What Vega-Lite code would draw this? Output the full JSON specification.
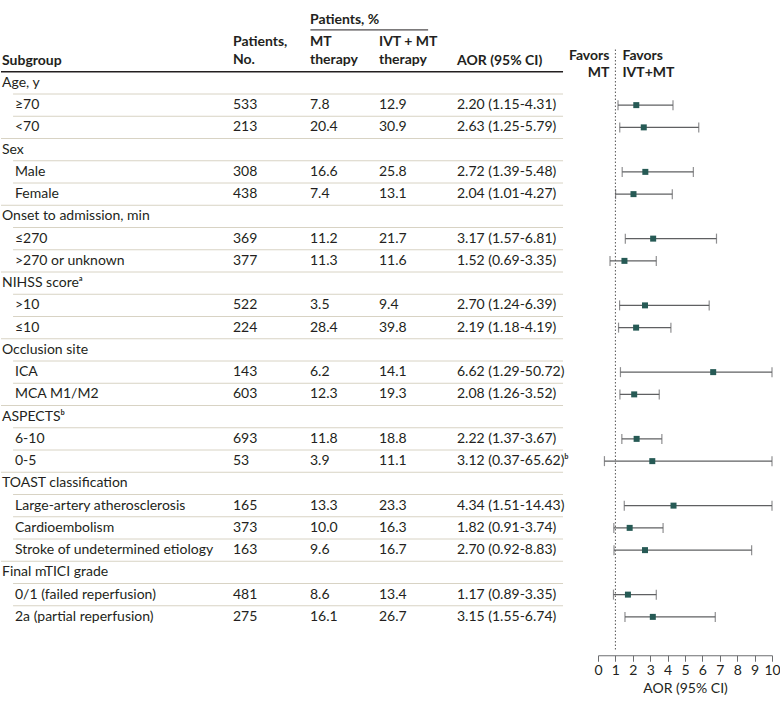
{
  "$schema": "https://vega.github.io/schema/vega-lite/v6.json",
  "padding": {"left": 0, "top": 5, "right": 4, "bottom": 5},
  "bounds": "flush",
  "spacing": 0,
  "config": {
    "view": {"stroke": null},
    "font": "Lato",
    "text": {"fontSize": 14, "color": "#231f20", "font": "Lato"},
    "axis": {"labelFont": "Lato", "titleFont": "Lato", "labelFontSize": 14, "titleFontSize": 14, "titleFontWeight": "normal", "labelColor": "#231f20", "titleColor": "#231f20", "domainColor": "#6d6e70", "tickColor": "#6d6e70", "grid": false, "tickSize": 6, "labelPadding": 2, "titlePadding": 4, "labelOverlap": false, "labelFlush": false}
  },
  "datasets": {
    "head": [
      {"col": "sub", "r": "h3", "t": "Subgroup"},
      {"col": "no", "r": "h2", "t": "Patients,\nNo."},
      {"col": "pct", "r": "h1", "t": "Patients, %"},
      {"col": "mt", "r": "h2", "t": "MT\ntherapy"},
      {"col": "ivt", "r": "h2", "t": "IVT + MT\ntherapy"},
      {"col": "aor", "r": "h3", "t": "AOR (95% CI)"},
      {"col": "fmt", "r": "h3", "t": "Favors\nMT"},
      {"col": "fivt", "r": "h3", "t": "Favors\nIVT+MT"}
    ],
    "rows": [
      {"r": "r01", "kind": "g", "label": "Age, y"},
      {"r": "r02", "kind": "i", "label": "≥70", "n": 533, "mt": 7.8, "ivt": 12.9, "aor": "2.20 (1.15-4.31)", "est": 2.20, "lo": 1.15, "hi": 4.31},
      {"r": "r03", "kind": "i", "label": "<70", "n": 213, "mt": 20.4, "ivt": 30.9, "aor": "2.63 (1.25-5.79)", "est": 2.63, "lo": 1.25, "hi": 5.79},
      {"r": "r04", "kind": "g", "label": "Sex"},
      {"r": "r05", "kind": "i", "label": "Male", "n": 308, "mt": 16.6, "ivt": 25.8, "aor": "2.72 (1.39-5.48)", "est": 2.72, "lo": 1.39, "hi": 5.48},
      {"r": "r06", "kind": "i", "label": "Female", "n": 438, "mt": 7.4, "ivt": 13.1, "aor": "2.04 (1.01-4.27)", "est": 2.04, "lo": 1.01, "hi": 4.27},
      {"r": "r07", "kind": "g", "label": "Onset to admission, min"},
      {"r": "r08", "kind": "i", "label": "≤270", "n": 369, "mt": 11.2, "ivt": 21.7, "aor": "3.17 (1.57-6.81)", "est": 3.17, "lo": 1.57, "hi": 6.81},
      {"r": "r09", "kind": "i", "label": ">270 or unknown", "n": 377, "mt": 11.3, "ivt": 11.6, "aor": "1.52 (0.69-3.35)", "est": 1.52, "lo": 0.69, "hi": 3.35},
      {"r": "r10", "kind": "g", "label": "NIHSS scoreᵃ"},
      {"r": "r11", "kind": "i", "label": ">10", "n": 522, "mt": 3.5, "ivt": 9.4, "aor": "2.70 (1.24-6.39)", "est": 2.70, "lo": 1.24, "hi": 6.39},
      {"r": "r12", "kind": "i", "label": "≤10", "n": 224, "mt": 28.4, "ivt": 39.8, "aor": "2.19 (1.18-4.19)", "est": 2.19, "lo": 1.18, "hi": 4.19},
      {"r": "r13", "kind": "g", "label": "Occlusion site"},
      {"r": "r14", "kind": "i", "label": "ICA", "n": 143, "mt": 6.2, "ivt": 14.1, "aor": "6.62 (1.29-50.72)", "est": 6.62, "lo": 1.29, "hi": 50.72},
      {"r": "r15", "kind": "i", "label": "MCA M1/M2", "n": 603, "mt": 12.3, "ivt": 19.3, "aor": "2.08 (1.26-3.52)", "est": 2.08, "lo": 1.26, "hi": 3.52},
      {"r": "r16", "kind": "g", "label": "ASPECTSᵇ"},
      {"r": "r17", "kind": "i", "label": "6-10", "n": 693, "mt": 11.8, "ivt": 18.8, "aor": "2.22 (1.37-3.67)", "est": 2.22, "lo": 1.37, "hi": 3.67},
      {"r": "r18", "kind": "i", "label": "0-5", "n": 53, "mt": 3.9, "ivt": 11.1, "aor": "3.12 (0.37-65.62)ᵇ", "est": 3.12, "lo": 0.37, "hi": 65.62},
      {"r": "r19", "kind": "g", "label": "TOAST classification"},
      {"r": "r20", "kind": "i", "label": "Large-artery atherosclerosis", "n": 165, "mt": 13.3, "ivt": 23.3, "aor": "4.34 (1.51-14.43)", "est": 4.34, "lo": 1.51, "hi": 14.43},
      {"r": "r21", "kind": "i", "label": "Cardioembolism", "n": 373, "mt": 10.0, "ivt": 16.3, "aor": "1.82 (0.91-3.74)", "est": 1.82, "lo": 0.91, "hi": 3.74},
      {"r": "r22", "kind": "i", "label": "Stroke of undetermined etiology", "n": 163, "mt": 9.6, "ivt": 16.7, "aor": "2.70 (0.92-8.83)", "est": 2.70, "lo": 0.92, "hi": 8.83},
      {"r": "r23", "kind": "g", "label": "Final mTICI grade"},
      {"r": "r24", "kind": "i", "label": "0/1 (failed reperfusion)", "n": 481, "mt": 8.6, "ivt": 13.4, "aor": "1.17 (0.89-3.35)", "est": 1.72, "lo": 0.89, "hi": 3.35},
      {"r": "r25", "kind": "i", "label": "2a (partial reperfusion)", "n": 275, "mt": 16.1, "ivt": 26.7, "aor": "3.15 (1.55-6.74)", "est": 3.15, "lo": 1.55, "hi": 6.74}
    ]
  },
  "hconcat": [
    {
      "width": 232,
      "height": {"step": 22.25},
      "layer": [
        {
          "data": {"name": "head"},
          "transform": [{"filter": "datum.col === 'sub'"}],
          "mark": {"type": "text", "align": "left", "baseline": "middle", "dx": 1, "fontWeight": "bold"},
          "encoding": {
            "x": {"datum": 0, "type": "quantitative", "scale": {"domain": [0, 1], "nice": false, "zero": false}, "axis": null},
            "y": {"field": "r", "type": "ordinal", "scale": {"domain": ["h1","h2","h3","r01","r02","r03","r04","r05","r06","r07","r08","r09","r10","r11","r12","r13","r14","r15","r16","r17","r18","r19","r20","r21","r22","r23","r24","r25"], "paddingInner": 0, "paddingOuter": 0}, "axis": null},
            "text": {"field": "t"}
          }
        },
        {
          "data": {"name": "rows"},
          "transform": [{"filter": "datum.kind === 'g'"}],
          "mark": {"type": "text", "align": "left", "baseline": "middle", "dx": 1},
          "encoding": {
            "x": {"datum": 0, "type": "quantitative"},
            "y": {"field": "r", "type": "ordinal"},
            "text": {"field": "label"}
          }
        },
        {
          "data": {"name": "rows"},
          "transform": [{"filter": "datum.kind === 'i'"}],
          "mark": {"type": "text", "align": "left", "baseline": "middle", "dx": 14},
          "encoding": {
            "x": {"datum": 0, "type": "quantitative"},
            "y": {"field": "r", "type": "ordinal"},
            "text": {"field": "label"}
          }
        },
        {
          "data": {"name": "rows"},
          "transform": [{"filter": "datum.kind === 'g' && datum.r !== 'r01'"}],
          "mark": {"type": "rule", "color": "#d8d3c4", "strokeWidth": 1},
          "encoding": {"y": {"field": "r", "type": "ordinal", "bandPosition": 0}}
        },
        {
          "data": {"name": "rows"},
          "transform": [{"filter": "datum.kind === 'i'"}],
          "mark": {"type": "rule", "color": "#d8d3c4", "strokeWidth": 1},
          "encoding": {
            "x": {"datum": 0.052, "type": "quantitative"},
            "x2": {"datum": 1},
            "y": {"field": "r", "type": "ordinal", "bandPosition": 0}
          }
        },
        {
          "data": {"name": "rows"},
          "transform": [{"filter": "datum.r === 'r01'"}],
          "mark": {"type": "rule", "color": "#231f20", "strokeWidth": 1.5},
          "encoding": {"y": {"field": "r", "type": "ordinal", "bandPosition": 0}}
        }
      ]
    },
    {
      "width": 76,
      "height": {"step": 22.25},
      "layer": [
        {
          "data": {"name": "head"},
          "transform": [{"filter": "datum.col === 'no'"}],
          "mark": {"type": "text", "align": "left", "baseline": "middle", "dy": 3.5, "fontWeight": "bold", "lineBreak": "\n", "lineHeight": 18},
          "encoding": {
            "x": {"datum": 0, "type": "quantitative", "scale": {"domain": [0, 1], "nice": false, "zero": false}, "axis": null},
            "y": {"field": "r", "type": "ordinal", "scale": {"domain": ["h1","h2","h3","r01","r02","r03","r04","r05","r06","r07","r08","r09","r10","r11","r12","r13","r14","r15","r16","r17","r18","r19","r20","r21","r22","r23","r24","r25"], "paddingInner": 0, "paddingOuter": 0}, "axis": null},
            "text": {"field": "t"}
          }
        },
        {
          "data": {"name": "rows"},
          "transform": [{"filter": "datum.kind === 'i'"}],
          "mark": {"type": "text", "align": "left", "baseline": "middle"},
          "encoding": {
            "x": {"datum": 0, "type": "quantitative"},
            "y": {"field": "r", "type": "ordinal"},
            "text": {"field": "n", "type": "quantitative", "format": "d"}
          }
        },
        {
          "data": {"name": "rows"},
          "transform": [{"filter": "datum.r !== 'r01'"}],
          "mark": {"type": "rule", "color": "#d8d3c4", "strokeWidth": 1},
          "encoding": {"y": {"field": "r", "type": "ordinal", "bandPosition": 0}}
        },
        {
          "data": {"name": "rows"},
          "transform": [{"filter": "datum.r === 'r01'"}],
          "mark": {"type": "rule", "color": "#231f20", "strokeWidth": 1.5},
          "encoding": {"y": {"field": "r", "type": "ordinal", "bandPosition": 0}}
        }
      ]
    },
    {
      "width": 70,
      "height": {"step": 22.25},
      "layer": [
        {
          "data": {"name": "head"},
          "transform": [{"filter": "datum.col === 'mt'"}],
          "mark": {"type": "text", "align": "left", "baseline": "middle", "dy": 3.5, "dx": 1, "fontWeight": "bold", "lineBreak": "\n", "lineHeight": 18},
          "encoding": {
            "x": {"datum": 0, "type": "quantitative", "scale": {"domain": [0, 1], "nice": false, "zero": false}, "axis": null},
            "y": {"field": "r", "type": "ordinal", "scale": {"domain": ["h1","h2","h3","r01","r02","r03","r04","r05","r06","r07","r08","r09","r10","r11","r12","r13","r14","r15","r16","r17","r18","r19","r20","r21","r22","r23","r24","r25"], "paddingInner": 0, "paddingOuter": 0}, "axis": null},
            "text": {"field": "t"}
          }
        },
        {
          "data": {"name": "head"},
          "transform": [{"filter": "datum.col === 'pct'"}],
          "mark": {"type": "text", "align": "left", "baseline": "middle", "dy": 4, "dx": 1, "fontWeight": "bold"},
          "encoding": {
            "x": {"datum": 0, "type": "quantitative"},
            "y": {"field": "r", "type": "ordinal"},
            "text": {"field": "t"}
          }
        },
        {
          "data": {"values": [{}]},
          "mark": {"type": "rule", "color": "#231f20", "strokeWidth": 1},
          "encoding": {
            "x": {"datum": 0.02, "type": "quantitative"},
            "x2": {"datum": 1},
            "y": {"datum": "h2", "type": "ordinal", "bandPosition": 0.12}
          }
        },
        {
          "data": {"name": "rows"},
          "transform": [{"filter": "datum.kind === 'i'"}],
          "mark": {"type": "text", "align": "left", "baseline": "middle", "dx": 1},
          "encoding": {
            "x": {"datum": 0, "type": "quantitative"},
            "y": {"field": "r", "type": "ordinal"},
            "text": {"field": "mt", "type": "quantitative", "format": ".1f"}
          }
        },
        {
          "data": {"name": "rows"},
          "transform": [{"filter": "datum.r !== 'r01'"}],
          "mark": {"type": "rule", "color": "#d8d3c4", "strokeWidth": 1},
          "encoding": {"y": {"field": "r", "type": "ordinal", "bandPosition": 0}}
        },
        {
          "data": {"name": "rows"},
          "transform": [{"filter": "datum.r === 'r01'"}],
          "mark": {"type": "rule", "color": "#231f20", "strokeWidth": 1.5},
          "encoding": {"y": {"field": "r", "type": "ordinal", "bandPosition": 0}}
        }
      ]
    },
    {
      "width": 78,
      "height": {"step": 22.25},
      "layer": [
        {
          "data": {"name": "head"},
          "transform": [{"filter": "datum.col === 'ivt'"}],
          "mark": {"type": "text", "align": "left", "baseline": "middle", "dy": 3.5, "fontWeight": "bold", "lineBreak": "\n", "lineHeight": 18},
          "encoding": {
            "x": {"datum": 0, "type": "quantitative", "scale": {"domain": [0, 1], "nice": false, "zero": false}, "axis": null},
            "y": {"field": "r", "type": "ordinal", "scale": {"domain": ["h1","h2","h3","r01","r02","r03","r04","r05","r06","r07","r08","r09","r10","r11","r12","r13","r14","r15","r16","r17","r18","r19","r20","r21","r22","r23","r24","r25"], "paddingInner": 0, "paddingOuter": 0}, "axis": null},
            "text": {"field": "t"}
          }
        },
        {
          "data": {"values": [{}]},
          "mark": {"type": "rule", "color": "#231f20", "strokeWidth": 1},
          "encoding": {
            "x": {"datum": 0, "type": "quantitative"},
            "x2": {"datum": 0.63},
            "y": {"datum": "h2", "type": "ordinal", "bandPosition": 0.12}
          }
        },
        {
          "data": {"name": "rows"},
          "transform": [{"filter": "datum.kind === 'i'"}],
          "mark": {"type": "text", "align": "left", "baseline": "middle"},
          "encoding": {
            "x": {"datum": 0, "type": "quantitative"},
            "y": {"field": "r", "type": "ordinal"},
            "text": {"field": "ivt", "type": "quantitative", "format": ".1f"}
          }
        },
        {
          "data": {"name": "rows"},
          "transform": [{"filter": "datum.r !== 'r01'"}],
          "mark": {"type": "rule", "color": "#d8d3c4", "strokeWidth": 1},
          "encoding": {"y": {"field": "r", "type": "ordinal", "bandPosition": 0}}
        },
        {
          "data": {"name": "rows"},
          "transform": [{"filter": "datum.r === 'r01'"}],
          "mark": {"type": "rule", "color": "#231f20", "strokeWidth": 1.5},
          "encoding": {"y": {"field": "r", "type": "ordinal", "bandPosition": 0}}
        }
      ]
    },
    {
      "width": 141,
      "height": {"step": 22.25},
      "layer": [
        {
          "data": {"name": "head"},
          "transform": [{"filter": "datum.col === 'aor'"}],
          "mark": {"type": "text", "align": "left", "baseline": "middle", "fontWeight": "bold"},
          "encoding": {
            "x": {"datum": 0, "type": "quantitative", "scale": {"domain": [0, 1], "nice": false, "zero": false}, "axis": null},
            "y": {"field": "r", "type": "ordinal", "scale": {"domain": ["h1","h2","h3","r01","r02","r03","r04","r05","r06","r07","r08","r09","r10","r11","r12","r13","r14","r15","r16","r17","r18","r19","r20","r21","r22","r23","r24","r25"], "paddingInner": 0, "paddingOuter": 0}, "axis": null},
            "text": {"field": "t"}
          }
        },
        {
          "data": {"name": "rows"},
          "transform": [{"filter": "datum.kind === 'i'"}],
          "mark": {"type": "text", "align": "left", "baseline": "middle"},
          "encoding": {
            "x": {"datum": 0, "type": "quantitative"},
            "y": {"field": "r", "type": "ordinal"},
            "text": {"field": "aor"}
          }
        },
        {
          "data": {"name": "rows"},
          "transform": [{"filter": "datum.r !== 'r01'"}],
          "mark": {"type": "rule", "color": "#d8d3c4", "strokeWidth": 1},
          "encoding": {
            "x": {"datum": 0, "type": "quantitative"},
            "x2": {"datum": 0.752},
            "y": {"field": "r", "type": "ordinal", "bandPosition": 0}
          }
        },
        {
          "data": {"name": "rows"},
          "transform": [{"filter": "datum.r === 'r01'"}],
          "mark": {"type": "rule", "color": "#231f20", "strokeWidth": 1.5},
          "encoding": {
            "x": {"datum": 0, "type": "quantitative"},
            "x2": {"datum": 0.752},
            "y": {"field": "r", "type": "ordinal", "bandPosition": 0}
          }
        }
      ]
    },
    {
      "width": 174,
      "height": {"step": 22.25},
      "layer": [
        {
          "data": {"values": [{}]},
          "mark": {"type": "rule", "color": "#555555", "strokeWidth": 1, "strokeDash": [1.5, 2]},
          "encoding": {
            "x": {"datum": 1, "type": "quantitative", "scale": {"domain": [0, 10], "nice": false, "zero": false, "clamp": true}, "axis": {"values": [0,1,2,3,4,5,6,7,8,9,10], "labelOverlap": false, "labelFlush": false, "labelBound": false, "offset": 5, "title": "AOR (95% CI)"}, "title": "AOR (95% CI)"},
            "y": {"datum": "h3", "type": "ordinal", "bandPosition": 0, "scale": {"domain": ["h1","h2","h3","r01","r02","r03","r04","r05","r06","r07","r08","r09","r10","r11","r12","r13","r14","r15","r16","r17","r18","r19","r20","r21","r22","r23","r24","r25","b1"], "paddingInner": 0, "paddingOuter": 0}, "axis": null},
            "y2": {"datum": "b1", "bandPosition": 1}
          }
        },
        {
          "data": {"name": "rows"},
          "transform": [{"filter": "datum.kind === 'i'"}],
          "mark": {"type": "rule", "color": "#5f6062", "strokeWidth": 1.2},
          "encoding": {
            "x": {"field": "lo", "type": "quantitative", "title": "AOR (95% CI)", "axis": {"values": [0,1,2,3,4,5,6,7,8,9,10], "labelOverlap": false, "labelFlush": false, "labelBound": false, "offset": 5, "title": "AOR (95% CI)"}},
            "x2": {"field": "hi"},
            "y": {"field": "r", "type": "ordinal"}
          }
        },
        {
          "data": {"name": "rows"},
          "transform": [{"filter": "datum.kind === 'i'"}],
          "mark": {"type": "tick", "color": "#5f6062", "size": 10, "thickness": 1.2},
          "encoding": {
            "x": {"field": "lo", "type": "quantitative", "title": "AOR (95% CI)", "axis": {"values": [0,1,2,3,4,5,6,7,8,9,10], "labelOverlap": false, "labelFlush": false, "labelBound": false, "offset": 5, "title": "AOR (95% CI)"}},
            "y": {"field": "r", "type": "ordinal"}
          }
        },
        {
          "data": {"name": "rows"},
          "transform": [{"filter": "datum.kind === 'i'"}],
          "mark": {"type": "tick", "color": "#5f6062", "size": 10, "thickness": 1.2},
          "encoding": {
            "x": {"field": "hi", "type": "quantitative", "title": "AOR (95% CI)", "axis": {"values": [0,1,2,3,4,5,6,7,8,9,10], "labelOverlap": false, "labelFlush": false, "labelBound": false, "offset": 5, "title": "AOR (95% CI)"}},
            "y": {"field": "r", "type": "ordinal"}
          }
        },
        {
          "data": {"name": "rows"},
          "transform": [{"filter": "datum.kind === 'i'"}],
          "mark": {"type": "square", "color": "#265a55", "filled": true, "size": 36, "opacity": 1},
          "encoding": {
            "x": {"field": "est", "type": "quantitative", "title": "AOR (95% CI)", "axis": {"values": [0,1,2,3,4,5,6,7,8,9,10], "labelOverlap": false, "labelFlush": false, "labelBound": false, "offset": 5, "title": "AOR (95% CI)"}},
            "y": {"field": "r", "type": "ordinal"}
          }
        },
        {
          "data": {"name": "head"},
          "transform": [{"filter": "datum.col === 'fmt'"}],
          "mark": {"type": "text", "align": "right", "baseline": "middle", "dx": -6, "dy": -4.5, "fontWeight": "bold", "lineBreak": "\n", "lineHeight": 17},
          "encoding": {
            "x": {"datum": 1, "type": "quantitative", "title": "AOR (95% CI)", "axis": {"values": [0,1,2,3,4,5,6,7,8,9,10], "labelOverlap": false, "labelFlush": false, "labelBound": false, "offset": 5, "title": "AOR (95% CI)"}},
            "y": {"field": "r", "type": "ordinal"},
            "text": {"field": "t"}
          }
        },
        {
          "data": {"name": "head"},
          "transform": [{"filter": "datum.col === 'fivt'"}],
          "mark": {"type": "text", "align": "left", "baseline": "middle", "dx": 7, "dy": -4.5, "fontWeight": "bold", "lineBreak": "\n", "lineHeight": 17},
          "encoding": {
            "x": {"datum": 1, "type": "quantitative", "title": "AOR (95% CI)", "axis": {"values": [0,1,2,3,4,5,6,7,8,9,10], "labelOverlap": false, "labelFlush": false, "labelBound": false, "offset": 5, "title": "AOR (95% CI)"}},
            "y": {"field": "r", "type": "ordinal"},
            "text": {"field": "t"}
          }
        }
      ]
    }
  ]
}
